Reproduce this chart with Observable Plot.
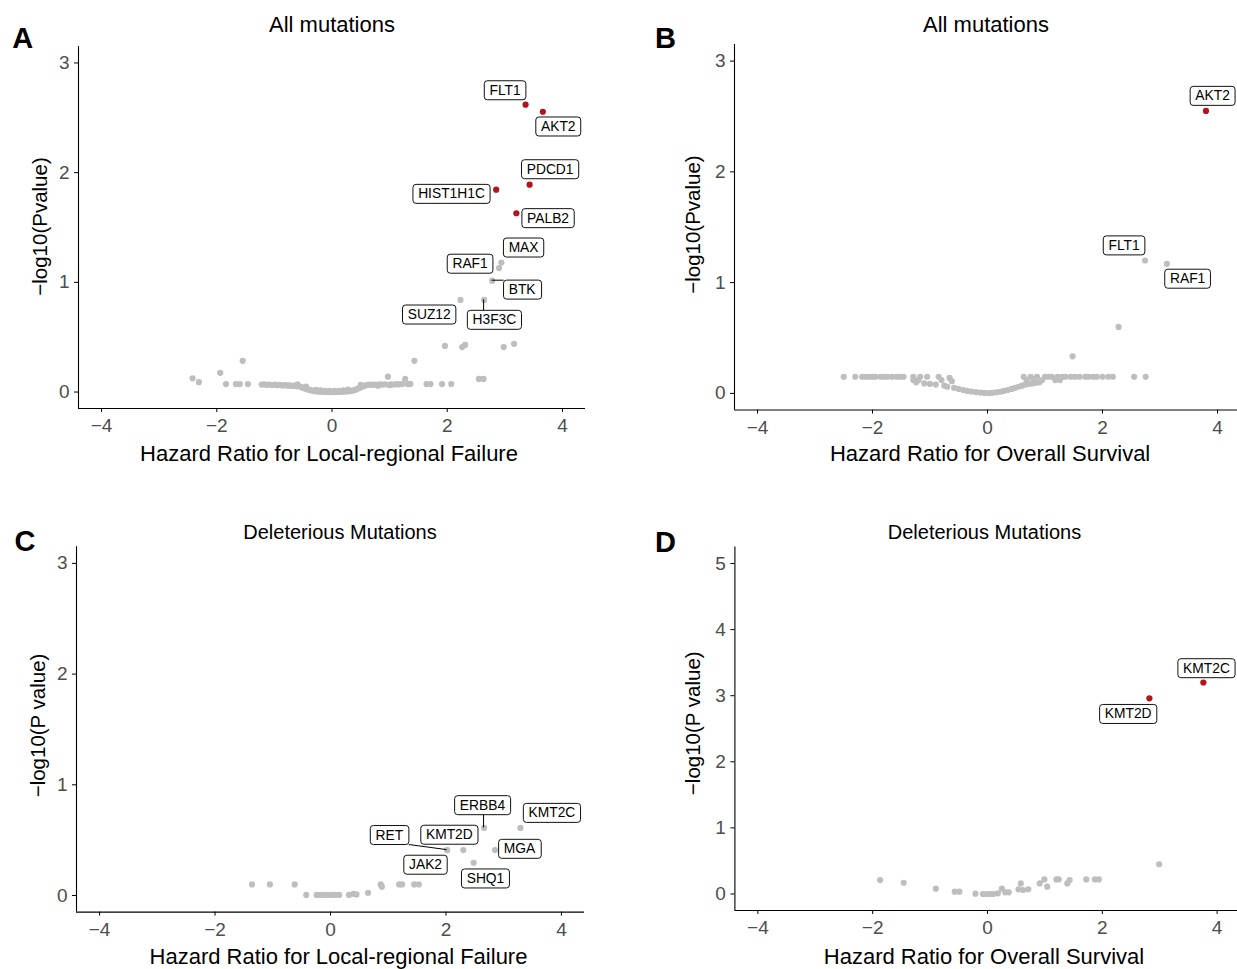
<!DOCTYPE html>
<html><head><meta charset="utf-8">
<script src="https://cdn.jsdelivr.net/npm/d3@7"></script>
<script src="https://cdn.jsdelivr.net/npm/@observablehq/plot@0.6"></script>
<style>
html,body{margin:0;padding:0;background:#fff;overflow:hidden;}
#root{position:relative;width:1237px;height:969px;overflow:hidden;background:#fff;}
.panel{position:absolute;}
</style></head><body><div id="root"></div>
<script>
// ---------- shared axis data ----------
const xTicks = [-4, -2, 0, 2, 4];
const yTicksABC = [0, 1, 2, 3];
const yTicksD = [0, 1, 2, 3, 4, 5];

// ---------- Panel A: All mutations, local-regional failure ----------
const aBgHR = [-2.42,-2.31,-1.94,-1.55,-1.84,-1.67,-1.60,-1.46,
 -1.22,-1.18,-1.13,-1.09,-1.04,-0.99,-0.95,-0.90,-0.86,-0.81,-0.77,-0.73,-0.69,-0.65,-0.61,-0.57,-0.54,-0.51,-0.48,-0.45,-0.42,-0.39,-0.36,-0.33,
 -0.30,-0.26,-0.22,-0.18,-0.14,-0.10,-0.06,-0.02,0.02,0.06,0.10,0.14,0.18,0.22,0.26,0.30,0.34,0.37,
 0.40,0.43,0.46,0.49,0.52,0.55,0.58,0.62,0.66,0.70,0.74,0.78,0.83,0.88,0.93,1.02,1.07,1.12,1.17,1.22,1.32,1.36,
 0.97,1.27,1.43,1.64,1.71,1.91,2.07,1.96,2.26,2.31,2.98,3.16,2.55,2.63,
 -0.28,-0.2,-0.12,-0.04,0.04,0.12,0.2,0.28,-0.45,-0.6,0.5,0.8,1.0];
const aBgLogP = [0.125,0.09,0.175,0.285,0.073,0.073,0.073,0.073,
 0.068,0.07,0.066,0.069,0.064,0.067,0.062,0.065,0.06,0.063,0.058,0.061,0.056,0.059,0.052,0.055,0.046,0.04,0.034,0.029,0.024,0.019,0.015,0.011,
 0.008,0.006,0.004,0.003,0.002,0.001,0.0,0.0,0.0,0.0,0.001,0.002,0.003,0.004,0.006,0.008,0.011,0.015,
 0.02,0.027,0.034,0.041,0.048,0.055,0.06,0.064,0.067,0.065,0.069,0.066,0.07,0.068,0.07,0.071,0.069,0.072,0.07,0.073,0.072,0.074,
 0.14,0.12,0.285,0.073,0.073,0.073,0.073,0.42,0.41,0.43,0.41,0.44,0.12,0.12,
 0.02,0.015,0.012,0.01,0.01,0.012,0.016,0.022,0.05,0.07,0.065,0.058,0.062];
const aGene = ["FLT1","AKT2","PDCD1","HIST1H1C","PALB2","MAX","RAF1","BTK","SUZ12","H3F3C"];
const aHR = [3.36,3.66,3.43,2.85,3.20,2.94,2.90,2.78,2.23,2.64];
const aLogP = [2.62,2.555,1.89,1.845,1.63,1.18,1.13,1.015,0.84,0.84];
const aSig = [true,true,true,true,true,false,false,false,false,false];

// ---------- Panel B: All mutations, overall survival ----------
const bBgHR = [-2.50,-2.30,-2.18,-2.12,-2.06,-2.00,-1.95,-1.86,-1.80,-1.74,-1.66,-1.58,-1.52,-1.46,-1.29,-1.17,-1.05,
 -1.29,-1.24,-1.20,-1.10,-1.00,-0.90,-0.85,-0.80,-0.75,-0.70,-0.66,-0.62,-0.58,-0.50,-0.42,-0.35,-0.28,-0.20,-0.12,-0.05,
 0.02,0.08,0.15,0.22,0.28,0.35,0.42,0.48,0.54,0.60,0.66,0.72,0.78,0.84,0.90,
 0.63,0.75,0.86,1.00,1.06,1.12,1.22,1.30,1.36,1.45,1.52,1.60,1.70,1.76,1.84,1.90,2.00,2.10,2.18,2.55,2.75,
 0.68,0.80,0.95,1.18,1.26,
 2.28,1.48];
const bBgLogP = [0.15,0.15,0.15,0.15,0.15,0.15,0.15,0.15,0.15,0.15,0.15,0.15,0.15,0.15,0.15,0.15,0.15,
 0.12,0.10,0.12,0.09,0.085,0.08,0.15,0.12,0.07,0.06,0.14,0.11,0.05,0.04,0.03,0.022,0.016,0.011,0.007,0.004,
 0.003,0.005,0.01,0.015,0.022,0.03,0.04,0.05,0.06,0.07,0.08,0.085,0.09,0.095,0.10,
 0.15,0.15,0.15,0.15,0.15,0.15,0.15,0.15,0.15,0.15,0.15,0.15,0.15,0.15,0.15,0.15,0.15,0.15,0.15,0.15,0.15,
 0.12,0.13,0.12,0.12,0.12,
 0.60,0.335];
const bGene = ["AKT2","FLT1","RAF1"];
const bHR = [3.80,2.74,3.12];
const bLogP = [2.55,1.20,1.17];
const bSig = [true,false,false];

// ---------- Panel C: Deleterious, local-regional failure ----------
const cBgHR = [-1.36,-1.05,-0.62,-0.42,-0.24,-0.17,-0.10,-0.05,0.02,0.08,0.15,0.32,0.40,0.45,0.65,0.87,0.89,1.19,1.24,1.45,1.53];
const cBgLogP = [0.1,0.1,0.1,0.005,0.005,0.005,0.005,0.005,0.005,0.005,0.005,0.005,0.015,0.01,0.024,0.1,0.08,0.1,0.1,0.1,0.1];
const cGene = ["ERBB4","KMT2C","RET","JAK2","KMT2D","MGA","SHQ1"];
const cHR = [2.66,3.29,2.02,2.02,2.30,2.85,2.48];
const cLogP = [0.61,0.61,0.41,0.41,0.41,0.41,0.295];
const cSig = [false,false,false,false,false,false,false];

// ---------- Panel D: Deleterious, overall survival ----------
const dBgHR = [2.99,-1.87,-1.46,-0.90,-0.57,-0.49,-0.21,-0.08,-0.01,0.05,0.10,0.18,0.25,0.31,0.37,0.54,0.58,0.62,0.71,0.91,0.99,1.04,1.20,1.24,1.39,1.43,1.72,1.87,1.94];
const dBgLogP = [0.45,0.21,0.17,0.08,0.035,0.035,0.005,0.0,0.0,0.0,0.0,0.01,0.08,0.025,0.025,0.07,0.16,0.06,0.07,0.16,0.22,0.11,0.22,0.22,0.16,0.21,0.22,0.22,0.22];
const dGene = ["KMT2C","KMT2D"];
const dHR = [3.76,2.82];
const dLogP = [3.20,2.96];
const dSig = [true,true];

// ---------- label layout (pixel offsets of label boxes, leader flag) ----------
const labelLayout = {
  A: {FLT1:[-20.5,-14.3,0], AKT2:[15.4,14.8,0], PDCD1:[20.5,-15.4,0], HIST1H1C:[-44.7,4.3,0], PALB2:[31.7,5,0],
      MAX:[22.2,-15,0], RAF1:[-29,-4.3,0], BTK:[30,9,1], SUZ12:[-31.3,14.7,0], H3F3C:[10.3,20,1]},
  B: {AKT2:[6.6,-15,0], FLT1:[-21,-15,0], RAF1:[20.7,15,0]},
  C: {ERBB4:[-1.6,-22.7,1], KMT2C:[31.5,-15,0], RET:[-57.8,-15,1], JAK2:[-21.6,14.7,0], KMT2D:[-13.9,-15.3,0], MGA:[24.5,-1.2,0], SHQ1:[11.8,15.7,0]},
  D: {KMT2C:[3.1,-14.2,0], KMT2D:[-21.2,15.7,0]}
};

const xDomain = [-4.4, 4.4];
const fmt = d3.format("d");
const FONT = "'Liberation Sans', Arial, Helvetica, sans-serif";
const GRAY = "#bebebe", RED = "#b3141c", TICKTEXT = "#4d4d4d";
const NS = "http://www.w3.org/2000/svg";
const root = document.getElementById("root");

function drawPanel(c) {
  const bg = c.bgX.map((x, i) => ({x, y: c.bgY[i]}));
  const lab = c.gene.map((g, i) => ({gene: g, x: c.hr[i], y: c.logp[i], sig: c.sig[i]}));
  const offs = labelLayout[c.id];
  const [ml, mt, mr, mb] = c.margins;
  const marks = [
    Plot.axisX({ticks: xTicks, tickFormat: fmt, tickSize: 4, tickPadding: 6, fontSize: 19, fill: TICKTEXT, stroke: "#000", label: null}),
    Plot.axisY({ticks: c.yTicks, tickFormat: fmt, tickSize: 4, tickPadding: 5, fontSize: 19, fill: TICKTEXT, stroke: "#000", label: null}),
    Plot.ruleX([xDomain[0]], {stroke: "#000", strokeWidth: 1.1}),
    Plot.ruleY([c.yDomain[0]], {stroke: "#000", strokeWidth: 1.1}),
    Plot.dot(bg, {x: "x", y: "y", r: 3.1, fill: GRAY}),
    Plot.dot(lab.filter(d => !d.sig), {x: "x", y: "y", r: 3.1, fill: GRAY}),
    Plot.dot(lab.filter(d => d.sig), {x: "x", y: "y", r: 3.1, fill: RED}),
    ...lab.map(d => Plot.text([d], {x: "x", y: "y", text: "gene", dx: offs[d.gene][0], dy: offs[d.gene][1], fontSize: 13.8, fill: "#000"})),
    Plot.text([c.title], {text: d => d, frameAnchor: "top", textAnchor: "middle", lineAnchor: "middle", dx: c.titleDx, dy: c.titleDy, fontSize: c.titleSize, fill: "#000"}),
    Plot.text([c.xTitle], {text: d => d, frameAnchor: "bottom", textAnchor: "middle", lineAnchor: "middle", dx: c.xTitleDx, dy: c.xTitleDy, fontSize: 22, fill: "#000"}),
    Plot.text([c.yTitle], {text: d => d, frameAnchor: "left", textAnchor: "middle", lineAnchor: "middle", rotate: -90, dx: c.yTitleDx, dy: c.yTitleDy, fontSize: 20.5, fill: "#000"}),
    Plot.text([c.letter], {text: d => d, frameAnchor: "top-left", textAnchor: "start", lineAnchor: "middle", dx: c.letterDx, dy: c.letterDy, fontSize: 29, fontWeight: "bold", fill: "#000"})
  ];
  const svg = Plot.plot({
    width: c.width, height: c.height,
    marginLeft: ml, marginTop: mt, marginRight: mr, marginBottom: mb,
    x: {domain: xDomain}, y: {domain: c.yDomain},
    style: {fontFamily: FONT, background: "transparent", overflow: "visible"},
    marks
  });
  const holder = document.createElement("div");
  holder.className = "panel";
  holder.style.left = c.left + "px";
  holder.style.top = c.top + "px";
  holder.style.width = c.width + "px";
  holder.style.height = c.height + "px";
  holder.appendChild(svg);
  root.appendChild(holder);

  // label boxes (ggrepel-style) around the gene text marks
  const sr = svg.getBoundingClientRect();
  const xs = svg.scale("x"), ys = svg.scale("y");
  svg.querySelectorAll("g[aria-label='text']").forEach(g => {
    const t = g.querySelector("text");
    if (!t) return;
    const name = t.textContent;
    const o = offs[name];
    if (!o) return;
    const d = lab.find(l => l.gene === name);
    const r = t.getBoundingClientRect();
    const padX = 5.2, padY = 2.0;
    const bx = r.left - sr.left - padX, by = r.top - sr.top - padY;
    const bw = r.width + 2 * padX, bh = r.height + 2 * padY;
    const rect = document.createElementNS(NS, "rect");
    rect.setAttribute("x", bx); rect.setAttribute("y", by);
    rect.setAttribute("width", bw); rect.setAttribute("height", bh);
    rect.setAttribute("rx", 3); rect.setAttribute("ry", 3);
    rect.setAttribute("fill", "#fff"); rect.setAttribute("stroke", "#111");
    rect.setAttribute("stroke-width", 1);
    g.parentNode.insertBefore(rect, g);
    if (o[2]) {
      const px = xs.apply(d.x), py = ys.apply(d.y);
      const cx = Math.max(bx, Math.min(px, bx + bw)), cy = Math.max(by, Math.min(py, by + bh));
      const line = document.createElementNS(NS, "line");
      line.setAttribute("x1", px); line.setAttribute("y1", py);
      line.setAttribute("x2", cx); line.setAttribute("y2", cy);
      line.setAttribute("stroke", "#000"); line.setAttribute("stroke-width", 1);
      g.parentNode.insertBefore(line, rect);
    }
  });
}

drawPanel({id: "A", left: 0, top: 0, width: 620, height: 470, margins: [78, 46, 35, 62],
  yDomain: [-0.15, 3.15], yTicks: yTicksABC,
  bgX: aBgHR, bgY: aBgLogP, gene: aGene, hr: aHR, logp: aLogP, sig: aSig,
  title: "All mutations", titleSize: 22, titleDx: 0, titleDy: -21.3,
  xTitle: "Hazard Ratio for Local-regional Failure", xTitleDx: -3, xTitleDy: 45.8,
  yTitle: "\u2212log10(Pvalue)", yTitleDx: -37.8, yTitleDy: -1,
  letter: "A", letterDx: -66.3, letterDy: -7.5});

drawPanel({id: "B", left: 620, top: 0, width: 640, height: 470, margins: [114, 44, 20, 60.5],
  yDomain: [-0.15, 3.15], yTicks: yTicksABC,
  bgX: bBgHR, bgY: bBgLogP, gene: bGene, hr: bHR, logp: bLogP, sig: bSig,
  title: "All mutations", titleSize: 22, titleDx: -1.5, titleDy: -19.3,
  xTitle: "Hazard Ratio for Overall Survival", xTitleDx: 2.6, xTitleDy: 44.3,
  yTitle: "\u2212log10(Pvalue)", yTitleDx: -41.3, yTitleDy: -2.7,
  letter: "B", letterDx: -79.6, letterDy: -5.5});

drawPanel({id: "C", left: 0, top: 470, width: 620, height: 499, margins: [76, 76.3, 36, 57.4],
  yDomain: [-0.15, 3.15], yTicks: yTicksABC,
  bgX: cBgHR, bgY: cBgLogP, gene: cGene, hr: cHR, logp: cLogP, sig: cSig,
  title: "Deleterious Mutations", titleSize: 20, titleDx: 9.5, titleDy: -14.7,
  xTitle: "Hazard Ratio for Local-regional Failure", xTitleDx: 8, xTitleDy: 44.6,
  yTitle: "\u2212log10(P value)", yTitleDx: -37.7, yTitleDy: -4,
  letter: "C", letterDx: -62.1, letterDy: -5.3});

drawPanel({id: "D", left: 620, top: 470, width: 640, height: 499, margins: [114.4, 76.5, 20.4, 59],
  yDomain: [-0.25, 5.25], yTicks: yTicksD,
  bgX: dBgHR, bgY: dBgLogP, gene: dGene, hr: dHR, logp: dLogP, sig: dSig,
  title: "Deleterious Mutations", titleSize: 20, titleDx: -3, titleDy: -14.8,
  xTitle: "Hazard Ratio for Overall Survival", xTitleDx: -3.5, xTitleDy: 46.2,
  yTitle: "\u2212log10(P value)", yTitleDx: -41.4, yTitleDy: -5.5,
  letter: "D", letterDx: -79.9, letterDy: -4.5});
</script></body></html>
